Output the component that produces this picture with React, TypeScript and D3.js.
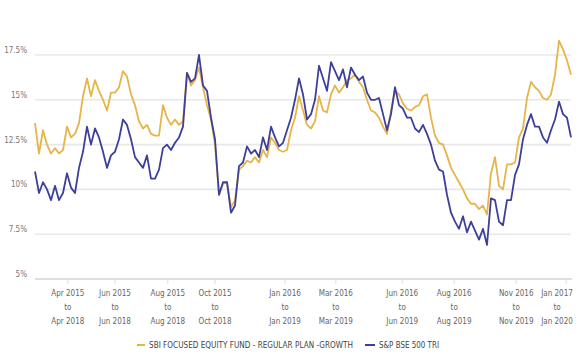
import React from 'react';
import { scaleLinear, line } from 'd3';

// rolling 3-year returns (%), sampled evenly along the axis
const fundReturns = [
  13.7, 12.0, 13.3, 12.5, 12.0, 12.3, 12.0, 12.2, 13.5, 12.9, 13.1, 13.7, 15.2, 16.2, 15.2, 16.1, 15.5, 15.0, 14.4, 15.4,
  15.4, 15.7, 16.6, 16.3, 15.3, 14.7, 13.8, 13.4, 13.6, 13.1, 13.0, 13.0, 14.7, 14.0, 13.6, 13.9, 13.6, 13.8, 16.5, 15.8,
  16.1, 16.8, 15.7, 14.7, 13.9, 12.5, 9.7, 10.3, 10.4, 9.0, 9.4, 11.1, 11.3, 11.6, 11.5, 11.8, 11.5, 12.2, 11.8, 12.9,
  12.6, 12.2, 12.1, 12.2, 13.3, 14.0, 15.2, 14.4, 13.6, 13.4, 13.8, 15.2, 14.4, 14.3, 15.3, 15.8, 15.4, 15.7, 16.1, 16.2,
  16.4, 16.0, 15.7, 15.0, 14.4, 14.3, 14.0, 13.5, 13.1, 14.4, 15.5, 15.3, 14.8, 14.5, 14.4, 14.6, 14.7, 15.2, 15.3, 14.0,
  13.0, 12.6, 12.5, 11.9, 11.2, 10.8, 10.4, 10.0, 9.5, 9.2, 9.2, 8.9, 9.1, 8.6, 10.9, 11.8, 10.2, 10.0, 11.4, 11.4,
  11.5, 12.9, 13.4, 15.1, 16.0, 15.7, 15.5, 15.1, 15.0, 15.3, 16.4, 18.3, 17.8, 17.2, 16.4,
];

const indexReturns = [
  11.0, 9.8, 10.4, 10.0, 9.4, 10.2, 9.4, 9.8, 10.9, 10.1, 9.8, 11.2, 12.1, 13.5, 12.5, 13.4, 12.9, 12.1, 11.2, 11.9,
  12.1, 12.8, 13.9, 13.6, 12.8, 11.8, 11.5, 11.2, 11.9, 10.6, 10.6, 11.1, 12.3, 12.5, 12.2, 12.6, 12.9, 13.5, 16.5, 16.0,
  16.2, 17.5, 15.8, 15.5, 14.0, 12.8, 9.7, 10.4, 10.4, 8.7, 9.1, 11.3, 11.5, 12.4, 12.0, 12.2, 11.8, 12.9, 12.2, 13.5,
  12.9, 12.4, 12.6, 13.3, 14.0, 15.0, 16.2, 15.3, 13.9, 14.2, 15.0, 16.9, 16.2, 15.5, 17.1, 16.6, 16.1, 16.7, 15.7, 16.8,
  16.4, 16.1, 16.3, 15.4, 15.0, 15.0, 15.1, 14.2, 13.3, 14.2, 15.7, 14.7, 14.5, 14.0, 14.0, 13.4, 13.2, 13.6, 13.1, 12.5,
  11.6, 11.1, 11.0, 9.7, 8.7, 8.2, 7.8, 8.5, 7.6, 8.2, 7.7, 7.2, 7.8, 6.9, 9.5, 9.4, 8.2, 8.0, 9.4, 9.4,
  10.8, 11.4, 12.8, 13.6, 14.2, 13.5, 13.5, 12.9, 12.6, 13.3, 13.9, 14.9, 14.2, 14.0, 12.9,
];

const yTicks = [5, 7.5, 10, 12.5, 15, 17.5];

const xTickPos = [8.2, 20, 33.2, 45, 62.5, 75.2, 91.8, 104.8, 120.3, 132.8];
const xTickFrom = ['Apr 2015', 'Jun 2015', 'Aug 2015', 'Oct 2015', 'Jan 2016', 'Mar 2016', 'Jun 2016', 'Aug 2016', 'Nov 2016', 'Jan 2017'];
const xTickTo = ['Apr 2018', 'Jun 2018', 'Aug 2018', 'Oct 2018', 'Jan 2019', 'Mar 2019', 'Jun 2019', 'Aug 2019', 'Nov 2019', 'Jan 2020'];

const seriesNames = ['SBI FOCUSED EQUITY FUND - REGULAR PLAN -GROWTH', 'S&P BSE 500 TRI'];
const seriesColors = ['#e6b548', '#3d3f9a'];

const font = '"Liberation Sans Narrow", "DejaVu Sans Condensed", "Open Sans", sans-serif';

const App = () => {
  const x = scaleLinear().domain([0, fundReturns.length - 1]).range([35, 571]);
  const y = scaleLinear().domain([5, 17.5]).range([279, 55]);

  const path = line<number>()
    .x((d, i) => x(i))
    .y((d) => y(d));

  return (
    <svg width={580} height={360} style={{ position: 'absolute', left: 0, top: 0, background: '#fff' }}>
      {yTicks.map((t) => (
        <g key={t}>
          {t > 5 && <line x1={35} x2={571} y1={y(t)} y2={y(t)} stroke="#e8e8e8" strokeWidth={1.6} />}
          <text x={27} y={y(t) - 2} textAnchor="end" fontSize={8} fill="#777" fontFamily={font}>
            {t}%
          </text>
        </g>
      ))}

      <line x1={35} x2={572} y1={y(5)} y2={y(5)} stroke="#dedede" strokeWidth={1.8} />
      {xTickPos.map((p, i) => {
        const cx = Math.min(x(p), 557);
        return (
          <g key={i}>
            <line x1={x(p)} x2={x(p)} y1={y(5)} y2={y(5) + 5} stroke="#dedede" strokeWidth={1} />
            <text textAnchor="middle" fontSize={8} fill="#666" fontFamily={font}>
              <tspan x={cx} y={296}>{xTickFrom[i]}</tspan>
              <tspan x={cx} y={310}>to</tspan>
              <tspan x={cx} y={324}>{xTickTo[i]}</tspan>
            </text>
          </g>
        );
      })}

      <path d={path(fundReturns) || ''} fill="none" stroke={seriesColors[0]} strokeWidth={1.8} strokeLinejoin="round" />
      <path d={path(indexReturns) || ''} fill="none" stroke={seriesColors[1]} strokeWidth={1.8} strokeLinejoin="round" />

      <g fontFamily={font} fontSize={8.5} fill="#444">
        <line x1={137} x2={145} y1={345} y2={345} stroke={seriesColors[0]} strokeWidth={2} />
        <text x={149} y={348} textLength={204} lengthAdjust="spacingAndGlyphs">{seriesNames[0]}</text>
        <line x1={365} x2={375} y1={345} y2={345} stroke={seriesColors[1]} strokeWidth={2} />
        <text x={379} y={348} textLength={60} lengthAdjust="spacingAndGlyphs">{seriesNames[1]}</text>
      </g>
    </svg>
  );
};

export default App;
